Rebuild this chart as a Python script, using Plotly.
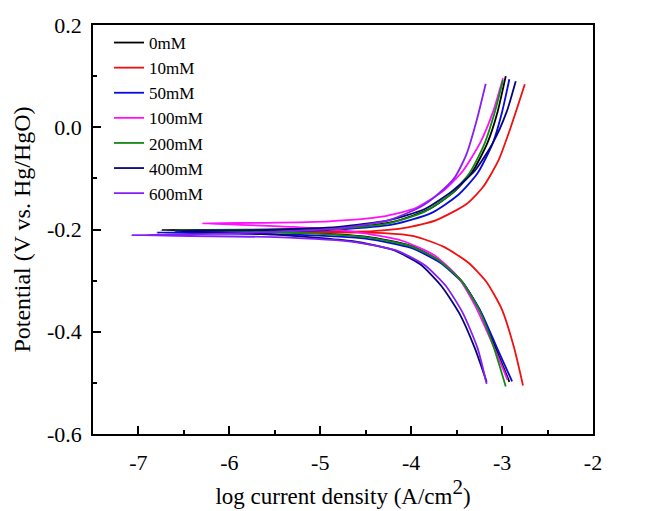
import plotly.graph_objects as go

# ---- data (x = log current density, y = potential) ----
names = ["0mM", "10mM", "50mM", "100mM", "200mM", "400mM", "600mM"]
colors = ["#000000", "#F01010", "#0A0ADC", "#FF10FF", "#108A10", "#06067A", "#8420F4"]

# each curve: anodic branch (top -> tip) then cathodic branch (tip -> bottom)
x_0mM = [-2.96, -3.05, -3.16, -3.32, -3.52, -3.80, -4.20, -4.70, -5.50, -6.75,
         -5.30, -4.50, -4.00, -3.68, -3.44, -3.24, -3.08, -2.92]
y_0mM = [0.100, 0.030, -0.030, -0.085, -0.125, -0.160, -0.185, -0.196, -0.200, -0.201,
         -0.205, -0.214, -0.232, -0.262, -0.302, -0.360, -0.428, -0.498]

x_10mM = [-2.75, -2.905, -3.04, -3.21, -3.39, -3.73, -4.07, -4.42, -5.60,
          -4.30, -3.97, -3.64, -3.37, -3.17, -3.00, -2.87, -2.77]
y_10mM = [0.084, 0.000, -0.065, -0.117, -0.150, -0.182, -0.197, -0.203, -0.205,
          -0.207, -0.213, -0.234, -0.265, -0.303, -0.357, -0.430, -0.505]

x_50mM = [-2.92, -3.00, -3.10, -3.27, -3.48, -3.78, -4.20, -4.80, -5.60, -6.80,
          -5.30, -4.50, -4.00, -3.68, -3.43, -3.23, -3.06, -2.89]
y_50mM = [0.094, 0.030, -0.030, -0.090, -0.132, -0.168, -0.190, -0.200, -0.204, -0.206,
          -0.210, -0.218, -0.236, -0.265, -0.305, -0.362, -0.430, -0.497]

x_100mM = [-2.99, -3.10, -3.24, -3.43, -3.65, -3.95, -4.32, -4.90, -5.60, -6.30,
           -5.30, -4.60, -4.10, -3.75, -3.50, -3.30, -3.12, -2.94]
y_100mM = [0.096, 0.030, -0.030, -0.085, -0.125, -0.158, -0.175, -0.184, -0.187, -0.188,
           -0.195, -0.205, -0.222, -0.250, -0.290, -0.348, -0.418, -0.494]

x_200mM = [-2.99, -3.08, -3.20, -3.36, -3.56, -3.85, -4.25, -4.80, -5.60, -6.60,
           -5.20, -4.50, -4.00, -3.70, -3.45, -3.25, -3.10, -2.96]
y_200mM = [0.092, 0.030, -0.035, -0.090, -0.130, -0.165, -0.188, -0.198, -0.201, -0.202,
           -0.207, -0.215, -0.233, -0.260, -0.300, -0.358, -0.426, -0.507]

x_400mM = [-2.85, -2.95, -3.10, -3.30, -3.55, -3.85, -4.25, -4.80, -5.60, -6.60,
           -5.50, -4.64, -4.20, -3.90, -3.67, -3.47, -3.30, -3.17]
y_400mM = [0.090, 0.030, -0.030, -0.085, -0.125, -0.160, -0.182, -0.195, -0.201, -0.203,
           -0.210, -0.223, -0.240, -0.268, -0.310, -0.364, -0.432, -0.498]

x_600mM = [-3.18, -3.28, -3.39, -3.52, -3.70, -3.90, -4.25, -4.76, -5.50, -6.30, -7.08,
           -5.50, -4.60, -4.15, -3.85, -3.62, -3.43, -3.27, -3.17]
y_600mM = [0.085, 0.013, -0.052, -0.098, -0.130, -0.156, -0.182, -0.197, -0.205, -0.209, -0.211,
           -0.215, -0.225, -0.242, -0.270, -0.310, -0.364, -0.432, -0.502]

xs = [x_0mM, x_10mM, x_50mM, x_100mM, x_200mM, x_400mM, x_600mM]
ys = [y_0mM, y_10mM, y_50mM, y_100mM, y_200mM, y_400mM, y_600mM]

x_tickvals = [-7, -6, -5, -4, -3, -2]
x_ticktext = ["-7", "-6", "-5", "-4", "-3", "-2"]
y_tickvals = [-0.6, -0.4, -0.2, 0.0, 0.2]
y_ticktext = ["-0.6", "-0.4", "-0.2", "0.0", "0.2"]

FONT = "Liberation Serif, Times New Roman, serif"

fig = go.Figure()
for name, c, x, y in zip(names, colors, xs, ys):
    fig.add_trace(go.Scatter(x=x, y=y, mode="lines", name=name,
                             line=dict(color=c, width=1.8, shape="spline", smoothing=0.6)))

axis_common = dict(showline=True, linecolor="black", linewidth=1.5, mirror=True,
                   ticks="inside", ticklen=8, tickwidth=1.5, tickcolor="black",
                   showgrid=False, zeroline=False,
                   tickfont=dict(family=FONT, size=22, color="black"))

fig.update_xaxes(range=[-7.5, -2], tickvals=x_tickvals, ticktext=x_ticktext,
                 ticklabelstandoff=8,
                 minor=dict(dtick=0.5, ticks="inside", ticklen=4, tickwidth=1.5, tickcolor="black", tick0=-7),
                 title=dict(text='log current density (A/cm<sup><span style="font-size:21px">2</span></sup>)',
                            font=dict(family=FONT, size=23, color="black"), standoff=3),
                 **axis_common)
fig.update_yaxes(range=[-0.6, 0.2], tickvals=y_tickvals, ticktext=y_ticktext,
                 ticklabelstandoff=5,
                 minor=dict(dtick=0.1, ticks="inside", ticklen=4, tickwidth=1.5, tickcolor="black", tick0=-0.6),
                 title=dict(text="Potential (V vs. Hg/HgO)",
                            font=dict(family=FONT, size=24, color="black"), standoff=10),
                 **axis_common)

fig.update_layout(
    width=659, height=511,
    margin=dict(l=93, r=66, t=25, b=77),
    paper_bgcolor="white", plot_bgcolor="white",
    showlegend=True,
    legend=dict(x=0.032, y=1.0, xanchor="left", yanchor="top",
                font=dict(family=FONT, size=17, color="black"),
                bgcolor="rgba(0,0,0,0)", tracegroupgap=0, itemwidth=30),
)

fig.write_html("out.html", config={"displayModeBar": False},
               post_script="document.body.style.margin='0px';")
